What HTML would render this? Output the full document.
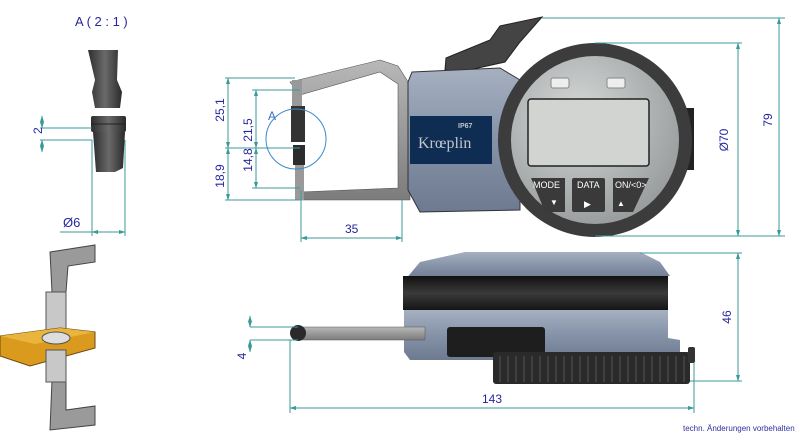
<!DOCTYPE html>
<html><head><meta charset="utf-8"><style>
html,body{margin:0;padding:0;background:#fff;width:800px;height:438px;overflow:hidden}
svg{display:block}
.d{stroke:#3a9a98;stroke-width:1;fill:none}
.a{stroke:#3a9a98;stroke-width:1;fill:none;marker-start:url(#ar);marker-end:url(#ar)}
.t{font-family:"Liberation Sans",sans-serif;fill:#2626a0;font-size:12px}
</style></head><body>
<svg width="800" height="438" viewBox="0 0 800 438" xmlns="http://www.w3.org/2000/svg">
<defs>
<marker id="ar" viewBox="0 0 10 6" refX="9" refY="3" markerWidth="7" markerHeight="4" orient="auto-start-reverse"><path d="M0,0 L10,3 L0,6 Z" fill="#3a9a98"/></marker>
<linearGradient id="pin" x1="0" x2="1"><stop offset="0" stop-color="#2e2e2e"/><stop offset=".5" stop-color="#6a6a6a"/><stop offset="1" stop-color="#2a2a2a"/></linearGradient>
<linearGradient id="body" x1="0" x2="0" y1="0" y2="1"><stop offset="0" stop-color="#a6b0c0"/><stop offset=".5" stop-color="#8592a8"/><stop offset="1" stop-color="#6d7a90"/></linearGradient>
<radialGradient id="face" cx=".4" cy=".35" r=".8"><stop offset="0" stop-color="#d6d8d8"/><stop offset="1" stop-color="#8e9292"/></radialGradient>
<linearGradient id="arm" x1="0" x2="0" y1="0" y2="1"><stop offset="0" stop-color="#b8b8b8"/><stop offset="1" stop-color="#7c7c7c"/></linearGradient>
<linearGradient id="bl" x1="0" x2="0" y1="0" y2="1"><stop offset="0" stop-color="#111"/><stop offset=".5" stop-color="#3a3a3a"/><stop offset="1" stop-color="#151515"/></linearGradient>
</defs>

<!-- Detail A -->
<text x="75" y="26" class="t" style="font-size:13px">A ( 2 : 1 )</text>
<path d="M88,50 L118,50 L117,80 L122,92 L120,108 L95,108 L92,92 L95,80 Z" fill="url(#pin)"/>
<rect x="91" y="116" width="35" height="16" rx="2" fill="url(#pin)"/>
<line x1="91" y1="124" x2="126" y2="124" stroke="#222"/>
<path d="M93,132 L125,132 L123,168 L115,172 L96,172 Z" fill="url(#pin)"/>
<g class="d"><line x1="40" y1="128" x2="92" y2="128"/><line x1="40" y1="140" x2="92" y2="140"/>
<line x1="92" y1="140" x2="92" y2="236"/><line x1="125" y1="140" x2="125" y2="236"/><line x1="60" y1="232" x2="92" y2="232"/></g>
<line class="a" x1="42" y1="116" x2="42" y2="128"/><line class="a" x1="42" y1="152" x2="42" y2="140"/>
<line class="a" x1="92" y1="232" x2="125" y2="232"/>
<text x="38" y="138" class="t" transform="rotate(-90 38 134)">2</text>
<text x="63" y="227" class="t" style="font-size:13px">Ø6</text>

<!-- isometric small -->
<path d="M50,252 L95,245 L95,262 L68,266 L66,292 L52,292 Z" fill="#9a9a9a" stroke="#444"/>
<path d="M52,380 L66,380 L66,410 L95,406 L95,425 L50,430 Z" fill="#9a9a9a" stroke="#444"/>
<rect x="46" y="292" width="20" height="42" fill="#c8c8c8" stroke="#555"/>
<path d="M0,336 L60,328 L95,332 L95,348 L30,366 L0,356 Z" fill="#d99a1e" stroke="#6b4a10"/>
<path d="M0,336 L60,328 L95,332 L35,344 Z" fill="#e9b53c"/>
<ellipse cx="56" cy="338" rx="14" ry="6" fill="#ddd" stroke="#555"/>
<rect x="46" y="350" width="20" height="32" fill="#c8c8c8" stroke="#555"/>

<!-- Top view: arm frame -->
<path d="M290,82 L380,60 L398,66 L410,85 L410,200 L300,200 L300,192 L398,188 L398,84 L380,72 L300,95 Z" fill="url(#arm)" stroke="#555" stroke-width=".6"/>
<rect x="292" y="80" width="10" height="40" fill="#999"/>
<rect x="291" y="106" width="14" height="36" fill="#333"/>
<rect x="293" y="145" width="12" height="20" fill="#2c2c2c"/>
<rect x="295" y="165" width="9" height="35" fill="#999"/>
<!-- thumb lever -->
<path d="M445,70 L446,58 L490,40 L500,26 L542,17 L520,42 L505,62 L460,72 Z" fill="#444" stroke="#222"/>
<!-- body -->
<path d="M412,72 L500,68 L520,80 L520,210 L420,212 L408,190 L408,82 Z" fill="url(#body)" stroke="#333"/>
<rect x="410" y="116" width="82" height="48" fill="#0f2c52"/>
<text x="418" y="148" style="font-family:'Liberation Serif',serif;font-size:16px;fill:#c0c6cc">Krœplin</text>
<text x="458" y="128" style="font-family:'Liberation Sans',sans-serif;font-size:7px;fill:#c0c6cc;font-weight:bold">IP67</text>
<!-- dial -->
<rect x="684" y="108" width="10" height="62" fill="#222"/>
<circle cx="595" cy="140" r="97" fill="#3c3c3c"/>
<circle cx="595" cy="140" r="84" fill="url(#face)"/>
<rect x="551" y="78" width="18" height="10" rx="2" fill="#eee" stroke="#888"/>
<rect x="607" y="78" width="18" height="10" rx="2" fill="#eee" stroke="#888"/>
<rect x="528" y="99" width="121" height="67" rx="3" fill="#d2d4d2" stroke="#222" stroke-width="1.5"/>
<g font-family="Liberation Sans,sans-serif" fill="#fff" font-size="9">
<path d="M531,178 L565,178 L565,212 L545,212 Z" fill="#3a3a3a"/>
<rect x="572" y="178" width="33" height="34" rx="2" fill="#3a3a3a"/>
<path d="M613,178 L649,178 L633,212 L613,212 Z" fill="#3a3a3a"/>
<text x="533" y="188">MODE</text><text x="577" y="188">DATA</text><text x="615" y="188">ON/&lt;0&gt;</text>
<text x="550" y="205" font-size="8">▼</text><text x="584" y="207">▶</text><text x="617" y="206" font-size="8">▲</text>
</g>
<!-- top dims -->
<g class="d">
<line x1="542" y1="18" x2="785" y2="18"/>
<line x1="595" y1="43" x2="742" y2="43"/>
<line x1="595" y1="236" x2="785" y2="236"/>
<line x1="225" y1="78" x2="295" y2="78"/><line x1="252" y1="90" x2="300" y2="90"/>
<line x1="225" y1="148" x2="300" y2="148"/><line x1="252" y1="188" x2="300" y2="188"/><line x1="225" y1="200" x2="300" y2="200"/>
<line x1="301" y1="190" x2="301" y2="242"/><line x1="402" y1="200" x2="402" y2="242"/>
</g>
<line class="a" x1="779" y1="18" x2="779" y2="236"/>
<line class="a" x1="738" y1="43" x2="738" y2="236"/>
<line class="a" x1="228" y1="78" x2="228" y2="148"/><line class="a" x1="228" y1="148" x2="228" y2="200"/>
<line class="a" x1="256" y1="90" x2="256" y2="148"/><line class="a" x1="256" y1="148" x2="256" y2="188"/>
<line class="a" x1="301" y1="238" x2="402" y2="238"/>
<circle cx="296" cy="139" r="30" fill="none" stroke="#3a8ac8"/>
<text x="268" y="120" class="t" style="fill:#3a6ac0">A</text>
<text x="222" y="112" class="t" transform="rotate(-90 222 110)" text-anchor="middle">25,1</text>
<text x="250" y="132" class="t" transform="rotate(-90 250 130)" text-anchor="middle">21,5</text>
<text x="222" y="178" class="t" transform="rotate(-90 222 176)" text-anchor="middle">18,9</text>
<text x="250" y="162" class="t" transform="rotate(-90 250 160)" text-anchor="middle">14,8</text>
<text x="345" y="233" class="t">35</text>
<text x="728" y="140" class="t" transform="rotate(-90 728 140)" text-anchor="middle">Ø70</text>
<text x="772" y="120" class="t" transform="rotate(-90 772 120)" text-anchor="middle">79</text>

<!-- Bottom view -->
<path d="M420,262 L465,252 L640,252 L660,262 L670,276 L405,280 Z" fill="url(#body)"/>
<rect x="403" y="276" width="265" height="34" fill="url(#bl)"/>
<path d="M404,310 L668,310 L668,338 L680,340 L680,360 L410,360 L404,352 Z" fill="url(#body)"/>
<path d="M295,327 L425,327 L425,340 L295,340 Z" fill="url(#arm)" stroke="#555" stroke-width=".5"/>
<circle cx="298" cy="333" r="8" fill="#2a2a2a"/>
<rect x="447" y="327" width="98" height="30" rx="3" fill="#1e1e1e"/>
<rect x="493" y="352" width="197" height="32" rx="3" fill="#2a2a2a"/>
<g stroke="#555" stroke-width="1">
<path d="M500,356 V382 M508,356 V382 M516,356 V382 M524,356 V382 M532,356 V382 M540,356 V382 M548,356 V382 M556,356 V382 M564,356 V382 M572,356 V382 M580,356 V382 M588,356 V382 M596,356 V382 M604,356 V382 M612,356 V382 M620,356 V382 M628,356 V382 M636,356 V382 M644,356 V382 M652,356 V382 M660,356 V382 M668,356 V382 M676,356 V382 M684,356 V382"/></g>
<rect x="688" y="347" width="7" height="16" rx="2" fill="#333"/>
<g class="d">
<line x1="640" y1="253" x2="742" y2="253"/><line x1="690" y1="381" x2="742" y2="381"/>
<line x1="250" y1="327" x2="298" y2="327"/><line x1="250" y1="340" x2="298" y2="340"/>
<line x1="290" y1="340" x2="290" y2="413"/><line x1="694" y1="363" x2="694" y2="413"/>
</g>
<line class="a" x1="738" y1="253" x2="738" y2="381"/>
<line class="a" x1="250" y1="316" x2="250" y2="327"/><line class="a" x1="250" y1="352" x2="250" y2="340"/>
<line class="a" x1="290" y1="408" x2="694" y2="408"/>
<text x="731" y="317" class="t" transform="rotate(-90 731 317)" text-anchor="middle">46</text>
<text x="246" y="356" class="t" transform="rotate(-90 246 356)" text-anchor="middle">4</text>
<text x="482" y="403" class="t">143</text>
<text x="683" y="431" style="font-family:'Liberation Sans',sans-serif;font-size:8px;fill:#3030a0">techn. Änderungen vorbehalten</text>
</svg>
</body></html>
